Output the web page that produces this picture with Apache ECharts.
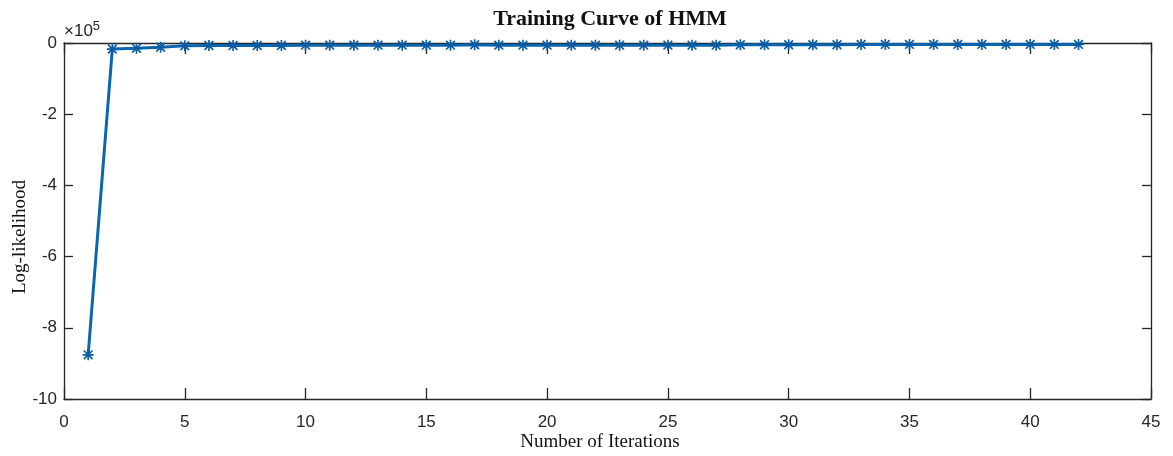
<!DOCTYPE html>
<html>
<head>
<meta charset="utf-8">
<script src="https://cdn.jsdelivr.net/npm/echarts@6/dist/echarts.min.js"></script>
<style>
  html, body { margin: 0; padding: 0; background: #fff; }
  #chart { width: 1173px; height: 456px; }
</style>
</head>
<body>
<div id="chart"></div>
<script>
// iterations and log-likelihood (units of 10^5)
const iterations = [1, 2, 3, 4, 5, 6, 7, 8, 9, 10, 11, 12, 13, 14, 15, 16, 17, 18, 19, 20, 21,
  22, 23, 24, 25, 26, 27, 28, 29, 30, 31, 32, 33, 34, 35, 36, 37, 38, 39, 40, 41, 42];
const logLik = [-8.76, -0.17, -0.15, -0.12, -0.08, -0.07, -0.07, -0.07, -0.07, -0.06, -0.06,
  -0.06, -0.06, -0.06, -0.06, -0.06, -0.05, -0.06, -0.06, -0.06, -0.06, -0.06, -0.06,
  -0.06, -0.06, -0.06, -0.06, -0.05, -0.05, -0.05, -0.05, -0.05, -0.04, -0.04, -0.04,
  -0.04, -0.04, -0.04, -0.04, -0.04, -0.04, -0.04];
const xTicks = [0, 45, 5];   // min, max, step
const yTicks = [-10, 0, 2];

const blue = '#0B66B0';
const tickFont = '"Liberation Sans Narrow", "Liberation Sans", Arial, sans-serif';
const serif = '"Liberation Serif", "Times New Roman", serif';
// asterisk marker, like matlab '*' (drawn a bit heavy like the scan)
const star = 'path://M8.5 0L11.5 0L11.5 20L8.5 20Z M0 8.5L20 8.5L20 11.5L0 11.5Z M3.2 1L19 16.8L16.8 19L1 3.2Z M16.8 1L19 3.2L3.2 19L1 16.8Z';

const chart = echarts.init(document.getElementById('chart'));

const axisBase = {
  type: 'value',
  axisLine: { show: true, onZero: false, lineStyle: { color: '#262626', width: 1.3 } },
  axisTick: { show: true, inside: true, lineStyle: { color: '#262626', width: 1.3 } },
  splitLine: { show: false }
};

const option = {
  backgroundColor: '#fff',
  animation: false,
  title: {
    text: 'Training Curve of HMM',
    left: 605,
    top: 3,
    textAlign: 'center',
    textStyle: { fontFamily: serif, fontWeight: 'bold', fontSize: 22, color: '#111' }
  },
  grid: { left: 64, right: 22, top: 43, bottom: 57 },
  xAxis: [
    Object.assign({}, axisBase, {
      min: xTicks[0], max: xTicks[1], interval: xTicks[2], position: 'bottom',
      axisTick: Object.assign({}, axisBase.axisTick, { length: 11 }),
      axisLabel: { margin: 15, fontFamily: tickFont, fontSize: 17, color: '#262626' }
    }),
    Object.assign({}, axisBase, {
      min: xTicks[0], max: xTicks[1], interval: xTicks[2], position: 'top',
      axisTick: Object.assign({}, axisBase.axisTick, { length: 11 }),
      axisLabel: { show: false }
    })
  ],
  yAxis: [
    Object.assign({}, axisBase, {
      min: yTicks[0], max: yTicks[1], interval: yTicks[2], position: 'left',
      axisTick: Object.assign({}, axisBase.axisTick, { length: 9 }),
      axisLabel: { margin: 7, fontFamily: tickFont, fontSize: 17, color: '#262626' }
    }),
    Object.assign({}, axisBase, {
      min: yTicks[0], max: yTicks[1], interval: yTicks[2], position: 'right',
      axisTick: Object.assign({}, axisBase.axisTick, { length: 9 }),
      axisLabel: { show: false }
    })
  ],
  graphic: [
    {
      type: 'text', left: 64, top: 20,
      style: {
        text: '×10{s|5}',
        rich: { s: { fontSize: 13, fontFamily: tickFont, verticalAlign: 'top', padding: [0, 0, 9, 0] } },
        fontFamily: tickFont, fontSize: 17, fill: '#262626'
      }
    },
    {
      type: 'text', x: 600, y: 442,
      style: {
        text: 'Number of Iterations', align: 'center', verticalAlign: 'middle',
        fontFamily: serif, fontSize: 19, fill: '#111'
      }
    },
    {
      type: 'text', x: 20, y: 237, rotation: Math.PI / 2,
      style: {
        text: 'Log-likelihood', align: 'center', verticalAlign: 'middle',
        fontFamily: serif, fontSize: 19, fill: '#111'
      }
    }
  ],
  series: [{
    type: 'line',
    data: iterations.map((x, i) => [x, logLik[i]]),
    symbol: star,
    symbolSize: 11,
    showAllSymbol: true,
    lineStyle: { color: blue, width: 3 },
    itemStyle: { color: '#0A5CA3' }
  }]
};

chart.setOption(option);
</script>
</body>
</html>
